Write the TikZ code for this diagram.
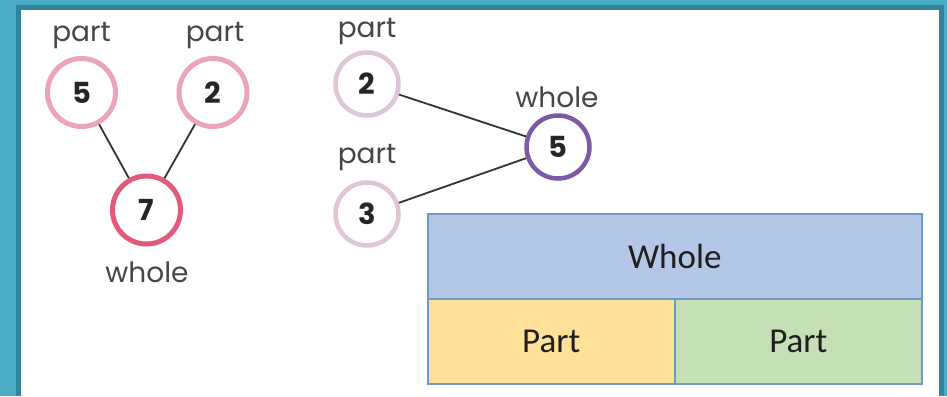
\documentclass[tikz,border=0pt]{standalone}
\usepackage{fontspec}
\setmainfont{Poppins}
\newfontfamily\boxfont{Carlito}
\definecolor{teal}{RGB}{75,172,198}
\definecolor{tealdark}{RGB}{49,132,155}
\definecolor{pinkpart}{RGB}{235,165,185}
\definecolor{pinkwhole}{RGB}{226,90,122}
\definecolor{lilacpart}{RGB}{222,198,215}
\definecolor{purplewhole}{RGB}{125,90,165}
\definecolor{boxblue}{RGB}{180,199,231}
\definecolor{boxyellow}{RGB}{255,225,153}
\definecolor{boxgreen}{RGB}{197,224,180}
\definecolor{boxline}{RGB}{110,155,200}
\definecolor{labelgray}{RGB}{70,70,70}
\tikzset{
  numcirc/.style={circle, line width=5pt, minimum size=68pt, inner sep=0pt, fill=white,
    font=\fontsize{29}{29}\selectfont\bfseries, text=black!85},
  smallcirc/.style={numcirc, line width=4.5pt, minimum size=63pt},
  lbl/.style={font=\fontsize{28}{28}\selectfont, text=labelgray, inner sep=0pt},
  conn/.style={line width=1.8pt, draw=black!80},
  cell/.style={draw=boxline, line width=1.5pt, font=\boxfont\fontsize{35}{35}\selectfont, text=black!88}
}
\begin{document}
\begin{tikzpicture}[x=1pt,y=-1pt]
\useasboundingbox (0,0) rectangle (947,396);
\fill[teal] (0,0) rectangle (947,396);
\fill[tealdark] (16,5) rectangle (944,396);
\fill[white] (21,10) rectangle (939,396);
% left tree
\node[numcirc, draw=pinkpart] (a5) at (81.5,92.5) {5};
\node[numcirc, draw=pinkpart] (a2) at (213,92.5) {2};
\node[numcirc, draw=pinkwhole] (a7) at (146.5,210) {7};
\node[lbl] (la5) at (81.5,36) {part};
\node[lbl] (la2) at (215,36) {part};
\node[lbl] (la7) at (147,272) {whole};
\draw[conn] (a5) -- (a7);
\draw[conn] (a2) -- (a7);
% middle tree
\node[smallcirc, draw=lilacpart] (b2) at (367,84) {2};
\node[smallcirc, draw=lilacpart] (b3) at (367,214) {3};
\node[smallcirc, draw=purplewhole] (b5) at (558,147) {5};
\node[lbl] (lb2) at (367,32) {part};
\node[lbl] (lb3) at (367,158) {part};
\node[lbl] (lb5) at (557,97) {whole};
\draw[conn] (b2) -- (b5);
\draw[conn] (b3) -- (b5);
% bar model
\node[cell, fill=boxblue, minimum width=494pt, minimum height=85pt, anchor=north west] (whole) at (427,213) {Whole};
\node[cell, fill=boxyellow, minimum width=247pt, minimum height=85pt, anchor=north west] (p1) at (427,298) {Part};
\node[cell, fill=boxgreen, minimum width=247pt, minimum height=85pt, anchor=north west] (p2) at (674,298) {Part};
\end{tikzpicture}
\end{document}
